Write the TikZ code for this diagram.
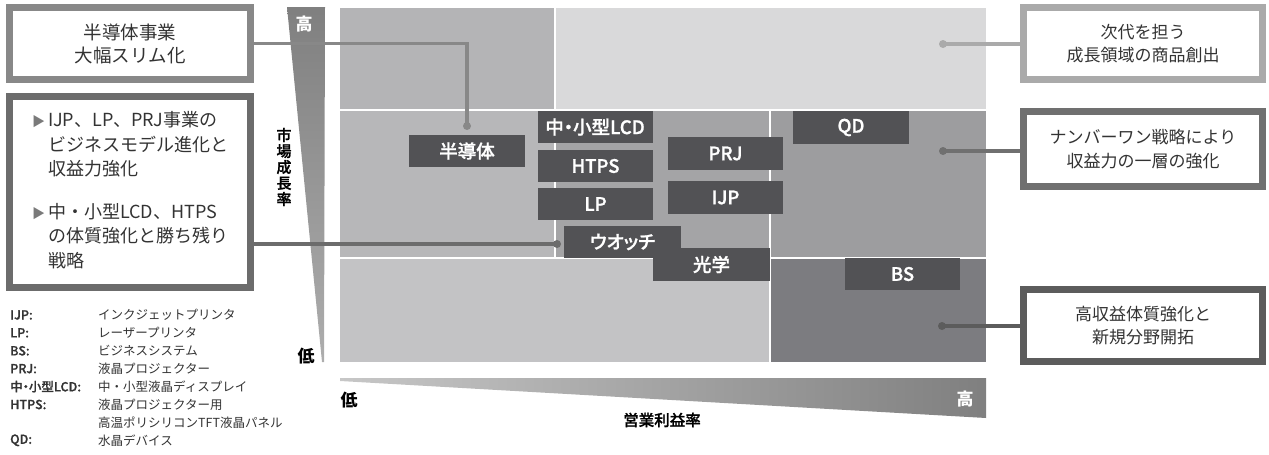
\documentclass[tikz,border=0pt]{standalone}
\usepackage{fontspec}
\setmainfont{Noto Sans CJK JP}
\IfFontExistsTF{Noto Sans CJK JP Medium}
  {\newfontfamily\lblfont{Noto Sans CJK JP Medium}[RawFeature=+palt,FakeBold=1.2]}
  {\newfontfamily\lblfont{Noto Sans CJK JP}[RawFeature=+palt,FakeBold=2]}
\definecolor{cTL}{HTML}{B4B4B6}
\definecolor{cTR}{HTML}{D9D9DA}
\definecolor{cML}{HTML}{B7B7B9}
\definecolor{cMC}{HTML}{A4A4A6}
\definecolor{cMR}{HTML}{9D9D9F}
\definecolor{cBL}{HTML}{C3C3C5}
\definecolor{cBR}{HTML}{7C7C80}
\definecolor{lblgray}{HTML}{525255}
\definecolor{txtgray}{HTML}{333333}
\definecolor{bd1}{HTML}{888888}
\definecolor{bd2}{HTML}{6C6C6C}
\definecolor{bd3}{HTML}{AAAAAA}
\definecolor{bd4}{HTML}{707070}
\definecolor{bd5}{HTML}{5C5C5C}
\definecolor{bullet}{HTML}{7A7A7A}
\pgfdeclarelayer{chart}
\pgfdeclarelayer{lines}
\pgfsetlayers{chart,lines,main}
\begin{document}
\begin{tikzpicture}[x=1pt,y=-1pt,
  lbl/.style={fill=lblgray,text=white,font=\lblfont\fontsize{18.5}{18.5}\selectfont,inner sep=0pt,minimum width=115pt,minimum height=32pt},
  box/.style={draw,line width=7pt,fill=white,inner sep=0pt,align=center,text=txtgray,font=\fontsize{17}{23.5}\selectfont},
  dot/.style={circle,fill,inner sep=0pt,minimum size=8pt},
  conn/.style={line width=3.5pt},
  legk/.style={anchor=west,inner sep=0pt,text=txtgray,font=\lblfont\fontsize{12.5}{12.5}\selectfont},
  legv/.style={anchor=west,inner sep=0pt,text=txtgray,font=\fontsize{12.5}{12.5}\selectfont},
  axb/.style={inner sep=0pt,font=\bfseries\fontsize{17}{17}\selectfont},
  cellsep/.style={white,line width=1.6pt}]
\useasboundingbox (0,0) rectangle (1269,455);

% ---------- chart background ----------
\begin{pgfonlayer}{chart}
  \fill[cTL] (340,8) rectangle (555,110);
  \fill[cTR] (555,8) rectangle (986,110);
  \fill[cML] (340,110) rectangle (555,258);
  \fill[cMC] (555,110) rectangle (770,258);
  \fill[cMR] (770,110) rectangle (986,258);
  \fill[cBL] (340,258) rectangle (770,362);
  \fill[cBR] (770,258) rectangle (986,362);
  \draw[cellsep] (340,110) -- (986,110);
  \draw[cellsep] (340,258) -- (986,258);
  \draw[cellsep] (555,8) -- (555,258);
  \draw[cellsep] (770,110) -- (770,362);
  % axis wedges
  \shade[top color=black!50,bottom color=black!32] (287,7) -- (325,7) -- (324,362) -- (322,362) -- cycle;
  \shade[left color=black!22,right color=black!50] (340,378) -- (986,378) -- (986,418) -- (340,381) -- cycle;
\end{pgfonlayer}

% ---------- axis labels ----------
\node[axb,text=white] (yhigh) at (304,24) {高};
\node[axb,text=black] (ylow) at (306,356) {低};
\node[inner sep=0pt,align=center,text=black,font=\lblfont\fontsize{15}{16}\selectfont] (ytitle) at (284,167) {市\\場\\成\\長\\率};
\node[axb,text=black] (xlow) at (349,400) {低};
\node[axb,text=white] (xhigh) at (965,399) {高};
\node[inner sep=0pt,text=black,font=\lblfont\fontsize{15.5}{15.5}\selectfont] (xtitle) at (662,420) {営業利益率};

% ---------- product labels ----------
\node[lbl,minimum width=116pt] (semi) at (467,151) {半導体};
\node[lbl] (lcd) at (595,127) {中・小型LCD};
\node[lbl] (htps) at (595.5,166) {HTPS};
\node[lbl] (lp) at (595.5,204) {LP};
\node[lbl,minimum height=33pt] (prj) at (725.5,153.5) {PRJ};
\node[lbl,minimum height=33pt] (ijp) at (725.5,197.5) {IJP};
\node[lbl,minimum width=117pt,minimum height=33pt] (kogaku) at (711.5,264.5) {光学};
\node[lbl,minimum width=117pt] (watch) at (622.5,242) {ウオッチ};
\node[lbl,minimum width=116pt,minimum height=33pt] (qd) at (851,127.5) {QD};
\node[lbl] (bs) at (902.5,274) {BS};

% ---------- comment boxes ----------
\node[box,draw=bd1,minimum width=241pt,minimum height=72pt,font=\fontsize{18.5}{23}\selectfont] (b1) at (130,43.5) {半導体事業\\大幅スリム化};
\node[box,draw=bd2,minimum width=241pt,minimum height=191pt,font=\fontsize{18}{24.5}\selectfont] (b2) at (130,192) {%
  \begin{tabular}{@{}l@{\hspace{3pt}}l@{}}
  \textcolor{bullet}{\fontsize{13}{13}\selectfont ▶} & IJP、LP、PRJ事業の\\
   & ビジネスモデル進化と\\
   & 収益力強化\\[18pt]
  \textcolor{bullet}{\fontsize{13}{13}\selectfont ▶} & 中・小型LCD、HTPS\\
   & の体質強化と勝ち残り\\
   & 戦略
  \end{tabular}};
\node[box,draw=bd3,minimum width=239pt,minimum height=72pt] (r1) at (1143,43.5) {次代を担う\\成長領域の商品創出};
\node[box,draw=bd4,minimum width=239pt,minimum height=75pt] (r2) at (1143,149) {ナンバーワン戦略により\\収益力の一層の強化};
\node[box,draw=bd5,minimum width=239pt,minimum height=72pt] (r3) at (1143,325.5) {高収益体質強化と\\新規分野開拓};

% ---------- dots ----------
\node[dot,bd1] (d1) at (467,126) {};
\node[dot,bd2] (d2) at (557,244) {};
\node[dot,bd3] (d3) at (943,44) {};
\node[dot,bd4] (d4) at (943,151) {};
\node[dot,bd5] (d5) at (942,326) {};

% ---------- connectors ----------
\begin{pgfonlayer}{lines}
  \draw[conn,bd1] (b1.east) -| (d1.center);
  \draw[conn,bd2] (b2.east |- d2) -- (d2.center);
  \draw[conn,bd3] (d3.center) -- (r1.west |- d3);
  \draw[conn,bd4] (d4.center) -- (r2.west |- d4);
  \draw[conn,bd5] (d5.center) -- (r3.west |- d5);
\end{pgfonlayer}

% ---------- legend ----------
\node[legk] (k1) at (10,315) {IJP:};
\node[legv] (v1) at (98,315) {インクジェットプリンタ};
\node[legk] (k2) at (10,332.9) {LP:};
\node[legv] (v2) at (98,332.9) {レーザープリンタ};
\node[legk] (k3) at (10,350.8) {BS:};
\node[legv] (v3) at (98,350.8) {ビジネスシステム};
\node[legk] (k4) at (10,368.7) {PRJ:};
\node[legv] (v4) at (98,368.7) {液晶プロジェクター};
\node[legk] (k5) at (10,386.6) {中・小型LCD:};
\node[legv] (v5) at (98,386.6) {中・小型液晶ディスプレイ};
\node[legk] (k6) at (10,404.5) {HTPS:};
\node[legv] (v6) at (98,404.5) {液晶プロジェクター用};
\node[legv] (v7) at (98,422.4) {高温ポリシリコンTFT液晶パネル};
\node[legk] (k8) at (10,440.3) {QD:};
\node[legv] (v8) at (98,440.3) {水晶デバイス};
\end{tikzpicture}
\end{document}
